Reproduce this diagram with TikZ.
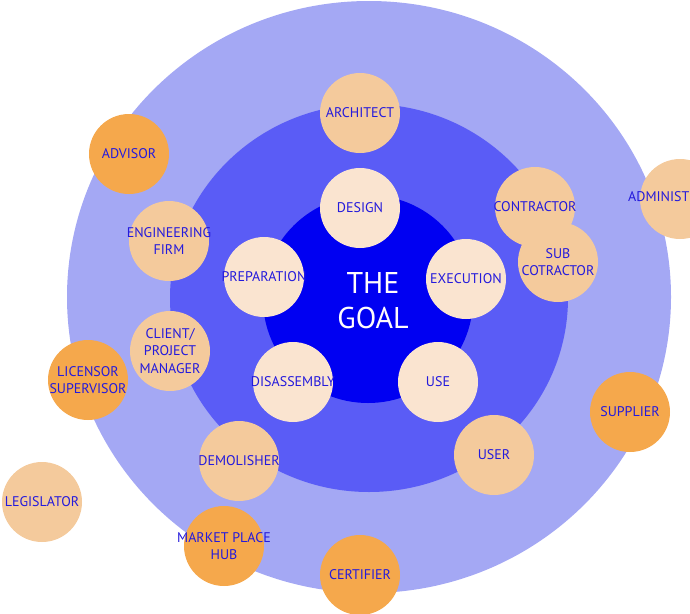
\documentclass[tikz,border=0pt]{standalone}
\usepackage{fontspec}
\setmainfont{PT Sans}
\definecolor{ringA}{RGB}{164,168,244}
\definecolor{ringB}{RGB}{90,92,246}
\definecolor{ringC}{RGB}{0,0,242}
\definecolor{creamC}{RGB}{250,228,208}
\definecolor{tanC}{RGB}{244,202,156}
\definecolor{orangeC}{RGB}{245,168,76}
\definecolor{txtC}{RGB}{36,26,220}
\begin{document}
\begin{tikzpicture}[x=1pt,y=-1pt,
  txtsty/.style={inner sep=0pt,text=txtC,font=\fontsize{14}{17.5}\selectfont,align=center},
  bubble/.style={circle,minimum size=80pt,inner sep=0pt,
    label={[txtsty]center:#1}},
  cream/.style={bubble=#1,fill=creamC},
  tan/.style={bubble=#1,fill=tanC},
  orng/.style={bubble=#1,fill=orangeC}]
\useasboundingbox (0,0) rectangle (690,613);
\begin{scope}
\clip (0,0) rectangle (690,613);
\fill[ringA] (369,297) ellipse [x radius=302, y radius=296];
\fill[ringB] (369,298) ellipse [x radius=199, y radius=194];
\fill[ringC] (368,299) ellipse [x radius=105, y radius=104];
\node[text=white!95!pink,font=\fontsize{30}{35}\selectfont,align=center] (goal) at (373,301) {THE\\GOAL};
\node[cream={DESIGN}] (design) at (360,208) {};
\node[cream={EXECUTION}] (exec) at (466,279) {};
\node[cream={USE}] (use) at (438,382) {};
\node[cream={DISASSEMBLY}] (disas) at (293,382) {};
\node[cream={PREPARATION}] (prep) at (264,277) {};
\node[tan={ARCHITECT}] (arch) at (360,113) {};
\node[orng={ADVISOR}] (adv) at (129,154) {};
\node[tan={ENGINEERING\\FIRM}] (eng) at (169,241) {};
\node[tan={CLIENT/\\PROJECT\\MANAGER}] (client) at (170,351) {};
\node[orng={LICENSOR\\SUPERVISOR}] (lic) at (88,380) {};
\node[tan={DEMOLISHER}] (demol) at (239,461) {};
\node[tan={LEGISLATOR}] (legis) at (42,502) {};
\node[orng={MARKET PLACE\\HUB}] (market) at (224,546) {};
\node[orng={CERTIFIER}] (cert) at (360,575) {};
\node[tan={USER}] (user) at (494,455) {};
\node[orng={SUPPLIER}] (supp) at (630,412) {};
\node[tan={CONTRACTOR}] (contr) at (535,207) {};
\node[tan={SUB\\COTRACTOR}] (sub) at (558,262) {};
\node[fill=tanC,circle,minimum size=80pt,inner sep=0pt] (admin) at (680,199) {};
\node[anchor=west,txtsty] (admintxt) at (628,197) {ADMINIST};
\end{scope}
\end{tikzpicture}
\end{document}
